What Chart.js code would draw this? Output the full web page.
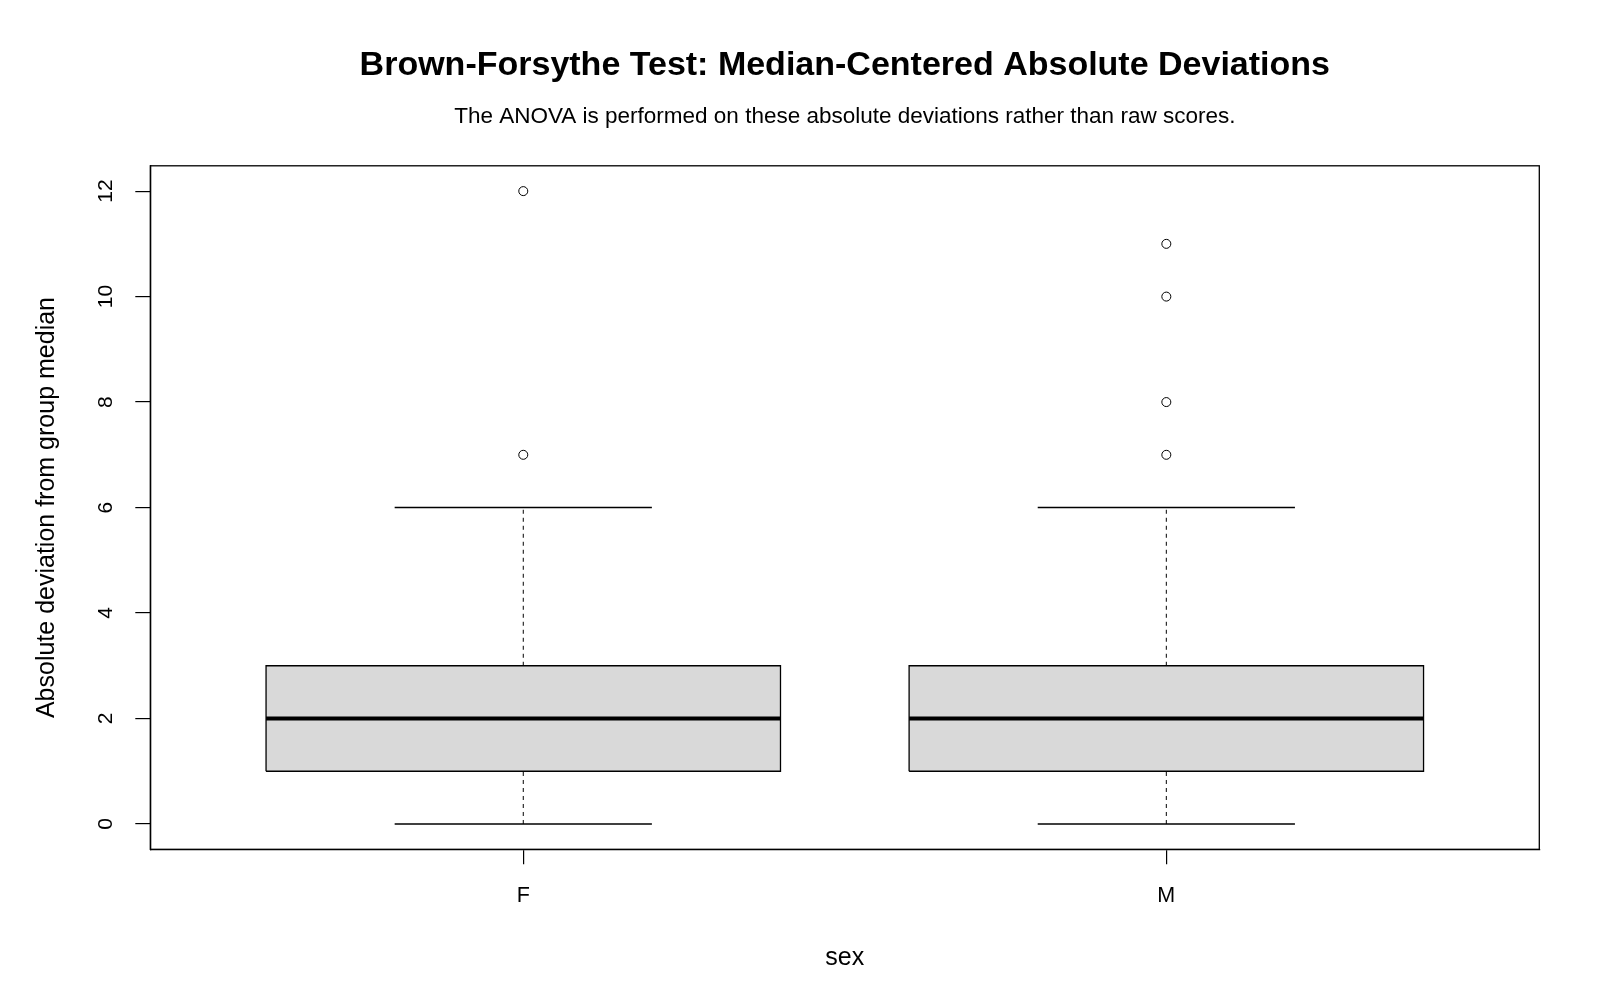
<!DOCTYPE html>
<html>
<head>
<meta charset="utf-8">
<script src="https://cdn.jsdelivr.net/npm/chart.js@4.4.1/dist/chart.umd.min.js"></script>
<style>
  html, body { margin: 0; padding: 0; background: #ffffff; }
  #wrap { width: 1600px; height: 1000px; }
</style>
</head>
<body>
<div id="wrap"><canvas id="c" width="1600" height="1000"></canvas></div>
<script>
// ---- data ----
const categories = ['F', 'M'];
const q1Values = [1, 1];
const medianValues = [2, 2];
const q3Values = [3, 3];
const whiskerLowValues = [0, 0];
const whiskerHighValues = [6, 6];
const outliersF = [7, 12];
const outliersM = [7, 8, 10, 11];
const outlierValues = [outliersF, outliersM];
const yTickValues = [0, 2, 4, 6, 8, 10, 12];

const titleText = 'Brown-Forsythe Test: Median-Centered Absolute Deviations';
const subtitleText = 'The ANOVA is performed on these absolute deviations rather than raw scores.';
const xTitle = 'sex';
const yTitle = 'Absolute deviation from group median';

// ---- styling ----
const FONT = "'Liberation Sans', Arial, sans-serif";
const BOX_HALF = 0.4;
const CAP_HALF = 0.2;
const FRAME = { left: 150.3, top: 165.3, right: 1539.3, bottom: 849.3 };

const datasets = [];
categories.forEach((cat, i) => {
  const c = i + 1;
  // box (filled rectangle)
  datasets.push({
    label: cat + ' box',
    data: [
      { x: c - BOX_HALF, y: q1Values[i] }, { x: c + BOX_HALF, y: q1Values[i] },
      { x: c + BOX_HALF, y: q3Values[i] }, { x: c - BOX_HALF, y: q3Values[i] },
      { x: c - BOX_HALF, y: q1Values[i] }
    ],
    showLine: true, fill: 'shape', backgroundColor: '#d9d9d9',
    borderColor: '#000', borderWidth: 1.3, pointRadius: 0, tension: 0, order: 5
  });
  // whiskers (dashed)
  datasets.push({
    label: cat + ' upper whisker',
    data: [{ x: c, y: q3Values[i] }, { x: c, y: whiskerHighValues[i] }],
    showLine: true, borderDash: [4, 4], borderColor: '#000', borderWidth: 1,
    pointRadius: 0, order: 3
  });
  datasets.push({
    label: cat + ' lower whisker',
    data: [{ x: c, y: whiskerLowValues[i] }, { x: c, y: q1Values[i] }],
    showLine: true, borderDash: [4, 4], borderColor: '#000', borderWidth: 1,
    pointRadius: 0, order: 3
  });
  // caps
  datasets.push({
    label: cat + ' upper cap',
    data: [{ x: c - CAP_HALF, y: whiskerHighValues[i] }, { x: c + CAP_HALF, y: whiskerHighValues[i] }],
    showLine: true, borderColor: '#000', borderWidth: 1.5, pointRadius: 0, order: 3
  });
  datasets.push({
    label: cat + ' lower cap',
    data: [{ x: c - CAP_HALF, y: whiskerLowValues[i] }, { x: c + CAP_HALF, y: whiskerLowValues[i] }],
    showLine: true, borderColor: '#000', borderWidth: 1.5, pointRadius: 0, order: 3
  });
  // median
  datasets.push({
    label: cat + ' median',
    data: [{ x: c - BOX_HALF, y: medianValues[i] }, { x: c + BOX_HALF, y: medianValues[i] }],
    showLine: true, borderColor: '#000', borderWidth: 4, pointRadius: 0, order: 1
  });
  // outliers
  datasets.push({
    label: cat + ' outliers',
    data: outlierValues[i].map(v => ({ x: c, y: v })),
    showLine: false, pointStyle: 'circle', pointRadius: 4.5,
    pointBackgroundColor: 'rgba(255,255,255,0)', pointBorderColor: '#000',
    pointBorderWidth: 1, order: 0
  });
});

const framePlugin = {
  id: 'framePlugin',
  afterDraw(chart) {
    const { ctx, chartArea: a, scales } = chart;
    ctx.save();
    ctx.strokeStyle = '#000';
    ctx.lineWidth = 1.3;
    ctx.strokeRect(a.left, a.top, a.right - a.left, a.bottom - a.top);
    // rotated y tick labels
    ctx.fillStyle = '#000';
    ctx.font = '21px ' + FONT;
    ctx.textAlign = 'center';
    ctx.textBaseline = 'middle';
    yTickValues.forEach(v => {
      const py = scales.y.getPixelForValue(v);
      ctx.save();
      ctx.translate(a.left - 44, py);
      ctx.rotate(-Math.PI / 2);
      ctx.fillText(String(v), 0, 0);
      ctx.restore();
    });
    ctx.restore();
  }
};

new Chart(document.getElementById('c'), {
  type: 'scatter',
  data: { datasets },
  plugins: [framePlugin],
  options: {
    responsive: false,
    animation: false,
    devicePixelRatio: 1,
    layout: { padding: { left: 0, right: 1600 - FRAME.right, top: 0, bottom: 0 } },
    plugins: {
      legend: { display: false },
      tooltip: { enabled: false },
      title: {
        display: true, fullSize: false, text: titleText, color: '#000',
        font: { family: FONT, size: 34, weight: 'bold', lineHeight: 1.2 },
        padding: { top: 44.8, bottom: 17.4 }
      },
      subtitle: {
        display: true, fullSize: false, text: subtitleText, color: '#000',
        font: { family: FONT, size: 22.5, weight: 'normal', lineHeight: 1.2 },
        padding: { top: 0, bottom: 35.8 }
      }
    },
    scales: {
      x: {
        type: 'linear', min: 0.42, max: 2.58,
        afterBuildTicks(scale) { scale.ticks = categories.map((_, i) => ({ value: i + 1 })); },
        afterFit(scale) { scale.height = 1000 - FRAME.bottom; },
        ticks: {
          autoSkip: false, maxRotation: 0, minRotation: 0,
          color: '#000', font: { family: FONT, size: 21.5 }, padding: 19,
          callback: (v) => categories[Math.round(v) - 1]
        },
        grid: { display: true, drawOnChartArea: false, drawTicks: true, tickLength: 15, color: '#000', lineWidth: 1.2 },
        border: { display: true, color: '#000', width: 1.3 },
        title: {
          display: true, text: xTitle, color: '#000',
          font: { family: FONT, size: 25, lineHeight: 1.2 },
          padding: { top: 0, bottom: 27 }
        }
      },
      y: {
        type: 'linear', min: -0.48, max: 12.48,
        afterBuildTicks(scale) { scale.ticks = yTickValues.map(v => ({ value: v })); },
        afterFit(scale) { scale.width = FRAME.left; },
        ticks: { display: false },
        grid: { display: true, drawOnChartArea: false, drawTicks: true, tickLength: 15, color: '#000', lineWidth: 1.2 },
        border: { display: true, color: '#000', width: 1.3 },
        title: {
          display: true, text: yTitle, color: '#000',
          font: { family: FONT, size: 25, lineHeight: 1.2 },
          padding: { top: 32, bottom: 0 }
        }
      }
    }
  }
});
</script>
</body>
</html>
